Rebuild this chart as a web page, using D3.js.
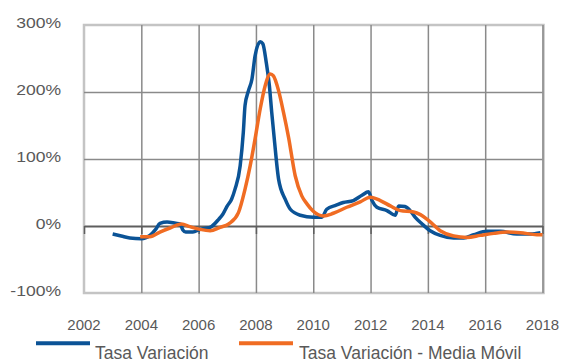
<!DOCTYPE html>
<html><head><meta charset="utf-8">
<script src="https://cdn.jsdelivr.net/npm/d3@7"></script>
<style>
html,body{margin:0;padding:0;background:#fff;}
svg{display:block;font-family:"Liberation Sans",Arial,sans-serif;}
</style></head>
<body><svg id="c" width="563" height="363"></svg>
<script>
const yTicks = [-100, 0, 100, 200, 300];
const xTicks = [2002, 2004, 2006, 2008, 2010, 2012, 2014, 2016, 2018];
const seriesNames = ["Tasa Variación", "Tasa Variación - Media Móvil"];
const tasaDates = [2003.0,2003.3,2003.6,2004.0,2004.3,2004.5,2004.65,2004.9,2005.2,2005.35,2005.45,2005.55,2005.8,2006.05,2006.4,2006.7,2006.85,2007.0,2007.15,2007.27,2007.45,2007.56,2007.62,2007.74,2007.86,2007.97,2008.15,2008.24,2008.36,2008.47,2008.55,2008.64,2008.79,2009.02,2009.2,2009.55,2010.0,2010.3,2010.47,2010.8,2011.05,2011.4,2011.7,2011.93,2012.05,2012.22,2012.57,2012.86,2012.98,2013.2,2013.38,2013.56,2013.8,2014.08,2014.43,2014.9,2015.25,2015.6,2016.07,2016.53,2017.1,2017.58,2017.93];
const tasaValues = [-12,-15,-18,-19,-14,-5,4,6,4,3,-6,-9,-9,-5,-2,10,18,30,40,55,90,140,180,202,219,254,275,272,244,209,170,130,70,40,25,16,13,13,25,31,35,38,46,51,38,28,23,16,30,29,23,13,3,-7,-14,-18,-18,-13,-8,-8,-12,-12,-10];
const mediaDates = [2003.96,2004.3,2004.65,2005.0,2005.4,2005.7,2006.05,2006.4,2006.75,2007.05,2007.39,2007.62,2007.8,2007.97,2008.15,2008.32,2008.5,2008.61,2008.79,2008.96,2009.14,2009.37,2009.6,2009.78,2010.0,2010.36,2010.7,2011.17,2011.64,2011.99,2012.34,2012.69,2013.04,2013.5,2013.74,2014.03,2014.43,2014.9,2015.37,2015.83,2016.3,2016.76,2017.23,2017.8,2018.0];
const mediaValues = [-16,-16,-9,-3,3,-1,-5,-7,-2,3,20,55,90,130,175,209,227,224,202,170,132,75,45,33,22,15,19,28,36,43,38,30,23,21,17,8,-7,-15,-17,-14,-11,-9,-10,-13,-13];
const colors = ["#0B5396", "#F06C23"];

const svg = d3.select("#c");
const L = 84, R = 542.5, T = 25, B = 293;
const x = d3.scaleLinear().domain([2002, 2018]).range([L, R]);
const y = d3.scaleLinear().domain([-100, 300]).range([B, T]);

// plot border
svg.append("rect").attr("x", L).attr("y", T).attr("width", R - L + 1).attr("height", B - T)
  .attr("fill", "none").attr("stroke", "#c4c4c4").attr("stroke-width", 2.5);

// grid
const gx = svg.append("g").attr("transform", `translate(0,${B})`)
  .call(d3.axisBottom(x).tickValues(xTicks.slice(1)).tickSize(-(B - T)).tickFormat(""));
gx.select(".domain").remove();
gx.selectAll("line").attr("stroke", "#8a8a8a").attr("stroke-width", 1.5);

const gy = svg.append("g").attr("transform", `translate(${L},0)`)
  .call(d3.axisLeft(y).tickValues([100, 200]).tickSize(-(R - L)).tickFormat(""));
gy.select(".domain").remove();
gy.selectAll("line").attr("stroke", "#8a8a8a").attr("stroke-width", 1.5);

// zero axis with ticks
const gz = svg.append("g").attr("transform", `translate(0,${y(0)})`)
  .call(d3.axisBottom(x).tickValues(xTicks).tickSize(8).tickSizeOuter(0).tickFormat(""));
gz.select(".domain").attr("stroke", "#5e5e5e").attr("stroke-width", 1.8);
gz.selectAll("line").attr("stroke", "#5e5e5e").attr("stroke-width", 1.5);

// y labels (slightly wide glyphs as in the reference)
svg.append("g").selectAll("text").data(yTicks).join("text")
  .attr("transform", d => `translate(61,${y(d) + 2.5}) scale(1.17,1)`)
  .attr("text-anchor", "end")
  .attr("font-size", 15).attr("fill", "#595959").text(d => d + "%");

// x labels
svg.append("g").selectAll("text").data(xTicks).join("text")
  .attr("x", d => x(d)).attr("y", 329.5).attr("text-anchor", "middle")
  .attr("font-size", 15).attr("fill", "#595959").text(d => d);

const line = d3.line().x(d => x(d[0])).y(d => y(d[1])).curve(d3.curveMonotoneX);
const tasa = tasaDates.map((d, i) => [d, tasaValues[i]]);
const media = mediaDates.map((d, i) => [d, mediaValues[i]]);
svg.append("path").attr("d", line(tasa)).attr("fill", "none").attr("stroke", colors[0]).attr("stroke-width", 3.5).attr("stroke-linejoin", "round");
svg.append("path").attr("d", line(media)).attr("fill", "none").attr("stroke", colors[1]).attr("stroke-width", 3.5).attr("stroke-linejoin", "round");

// legend
const leg = [{x1: 36, x2: 90, tx: 95}, {x1: 239, x2: 293, tx: 299}];
leg.forEach((l, i) => {
  svg.append("line").attr("x1", l.x1).attr("x2", l.x2).attr("y1", 343.3).attr("y2", 343.3)
    .attr("stroke", colors[i]).attr("stroke-width", 4);
  svg.append("text").attr("x", l.tx).attr("y", 359).attr("font-size", 17.5)
    .attr("fill", "#595959").text(seriesNames[i]);
});
</script></body></html>
